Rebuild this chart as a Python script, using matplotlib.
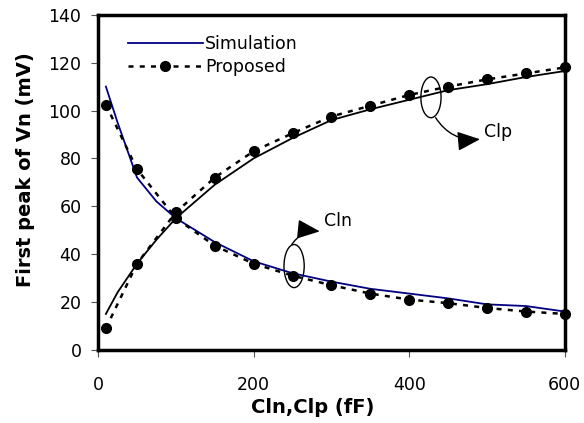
import numpy as np
import matplotlib
matplotlib.use("Agg")
import matplotlib.pyplot as plt
from matplotlib.patches import Ellipse, FancyArrowPatch

plt.rcParams['font.family'] = ['DejaVu Sans']

# simulation curves
x_sim = [10, 25, 50, 75, 100, 150, 200, 250, 300, 350, 400, 450, 500, 550, 600]
cln_sim = [110, 95, 72, 62, 55, 45, 37, 32, 28.5, 25.5, 23.5, 21.5, 19, 18.3, 16]
clp_sim = [15, 24, 36, 46, 55, 69, 80, 88.5, 96, 100.5, 104.5, 108.5, 111, 114, 116.5]

# proposed model points
x_prop = [10, 50, 100, 150, 200, 250, 300, 350, 400, 450, 500, 550, 600]
cln_prop = [102.5, 75.5, 55, 43.5, 36, 31, 27, 23.5, 21, 19.5, 17.5, 16, 15]
clp_prop = [9, 36, 57.5, 72, 83, 90.5, 97.5, 102, 106.5, 110, 113, 115.5, 118]

fs = 12.5

fig = plt.figure(figsize=(5.84, 4.23), dpi=100)
ax = fig.add_axes([0.168, 0.173, 0.799, 0.792])

ax.plot(x_sim, cln_sim, color='#000080', lw=1.3, label='Simulation')
ax.plot(x_sim, clp_sim, color='black', lw=1.3)
ax.plot(x_prop, cln_prop, color='black', lw=1.8, ls=(0, (2, 2.5)),
        marker='o', ms=7, label='Proposed', clip_on=False)
ax.plot(x_prop, clp_prop, color='black', lw=1.8, ls=(0, (2, 2.5)),
        marker='o', ms=7, clip_on=False)

# annotation loops and arrows
arrow = '-|>,head_length=1.4,head_width=0.6'
ax.add_patch(Ellipse((428, 105.5), 26, 17, fill=False, lw=1.0, color='black'))
ax.add_patch(FancyArrowPatch((434, 97), (491, 88), connectionstyle='arc3,rad=0.3',
                             arrowstyle=arrow, mutation_scale=10,
                             shrinkA=0, shrinkB=0, color='black', lw=1.0))
ax.text(496, 91, 'Clp', fontsize=fs, va='center', ha='left')

ax.add_patch(Ellipse((252, 35), 26, 18, fill=False, lw=1.0, color='black'))
ax.add_patch(FancyArrowPatch((249, 44), (285, 49.5), connectionstyle='arc3,rad=-0.3',
                             arrowstyle=arrow, mutation_scale=10,
                             shrinkA=0, shrinkB=0, color='black', lw=1.0))
ax.text(290, 54, 'Cln', fontsize=fs, va='center', ha='left')

ax.set_xlim(0, 600)
ax.set_ylim(0, 140)
ax.set_xticks([0, 200, 400, 600])
ax.set_yticks(np.arange(0, 141, 20))
ax.tick_params(labelsize=fs, length=5, width=0.8, color='#555555')
ax.tick_params(axis='x', pad=14)
ax.tick_params(axis='y', pad=7)
for s in ax.spines.values():
    s.set_linewidth(2.5)

ax.set_xlabel('Cln,Clp (fF)', fontsize=14, fontweight='bold')
ax.set_ylabel('First peak of Vn (mV)', fontsize=14, fontweight='bold')
ax.xaxis.set_label_coords(0.46, -0.173)
ax.yaxis.set_label_coords(-0.156, 0.537)
ax.xaxis.label.set_va('center')
ax.yaxis.label.set_va('center')

ax.legend(loc='upper left', bbox_to_anchor=(0.064, 0.94), frameon=False,
          borderpad=0, borderaxespad=0,
          fontsize=fs, handlelength=4.3, handletextpad=0.15, labelspacing=0.3)

fig.savefig('out.png', dpi=100)
